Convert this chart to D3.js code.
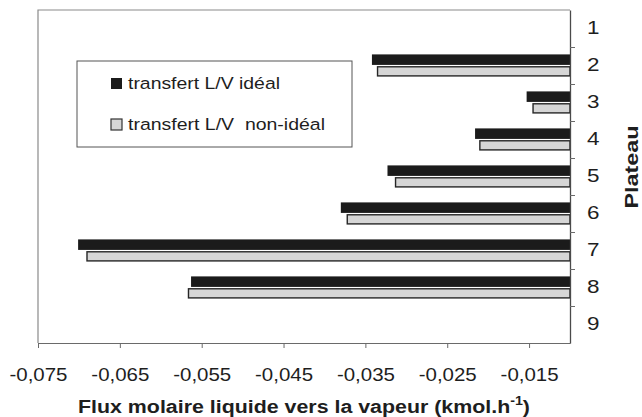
<!DOCTYPE html>
<html>
<head>
<meta charset="utf-8">
<script src="https://cdn.jsdelivr.net/npm/d3@7"></script>
<style>
  html, body { margin: 0; padding: 0; background: #fff; }
  svg { display: block; font-family: "Liberation Sans", Arial, Helvetica, sans-serif; }
  text { fill: #1e1e1e; }
</style>
</head>
<body>
<svg id="chart" width="642" height="417"></svg>
<script>
// ---- data ----
const plateaux = ["1", "2", "3", "4", "5", "6", "7", "8", "9"];
const seriesNames = ["transfert L/V idéal", "transfert L/V  non-idéal"];
const fluxIdeal    = [null, -0.0342, -0.0153, -0.0216, -0.0323, -0.0380, -0.0701, -0.0563, null];
const fluxNonIdeal = [null, -0.0336, -0.0146, -0.0211, -0.0314, -0.0373, -0.0691, -0.0567, null];
const xTickValues = [-0.075, -0.065, -0.055, -0.045, -0.035, -0.025, -0.015];
const xDomain = [-0.075, -0.010];
const xTitle = "Flux molaire liquide vers la vapeur (kmol.h";
const yTitle = "Plateau";

// ---- layout ----
const M = { left: 38, right: 570, top: 10, bottom: 343 };
const svg = d3.select("#chart");

const x = d3.scaleLinear().domain(xDomain).range([M.left, M.right]);
const y = d3.scaleBand().domain(plateaux).range([M.top, M.bottom]).paddingInner(0.4).paddingOuter(0.2);
const ySub = d3.scaleBand().domain([0, 1]).range([0, y.bandwidth()]).paddingInner(0.1);
const yEdges = d3.scaleLinear().domain([0, plateaux.length]).range([M.top, M.bottom]);

const fr = d3.formatLocale({ decimal: ",", thousands: " ", grouping: [3], currency: ["", ""], minus: "-" });
const fmt = fr.format(".3f");

// frame (top and left)
svg.append("path")
  .attr("d", `M${M.left},${M.bottom}V${M.top}H${M.right}`)
  .attr("fill", "none").attr("stroke", "#8a8a8a").attr("stroke-width", 1.2);

// bars
const rows = plateaux.map((p, i) => ({ p, vals: [fluxIdeal[i], fluxNonIdeal[i]] }));
const g = svg.append("g");
rows.forEach(r => {
  r.vals.forEach((v, s) => {
    if (v == null) return;
    const y0 = y(r.p) + ySub(s);
    const rect = g.append("rect")
      .attr("x", x(v))
      .attr("y", y0)
      .attr("width", x(xDomain[1]) - x(v))
      .attr("height", ySub.bandwidth());
    if (s === 0) {
      rect.attr("fill", "#1b1b1b");
    } else {
      rect.attr("x", x(v) + 0.7).attr("width", x(xDomain[1]) - x(v) - 0.7)
        .attr("y", y0 + 0.7).attr("height", ySub.bandwidth() - 1.4)
        .attr("fill", "#d6d6d6").attr("stroke", "#262626").attr("stroke-width", 1.4);
    }
  });
});

// bottom axis
const xAxis = svg.append("g")
  .attr("transform", `translate(0,${M.bottom})`)
  .call(d3.axisBottom(x).tickValues(xTickValues).tickFormat(fmt).tickSize(5).tickSizeOuter(0).tickPadding(21));
xAxis.select(".domain").attr("stroke", "#6a6a6a").attr("stroke-width", 1.2);
xAxis.selectAll(".tick line").attr("stroke", "#6a6a6a");
xAxis.selectAll("text")
  .attr("font-size", 17.5).attr("fill", "#1e1e1e")
  .attr("textLength", 58).attr("lengthAdjust", "spacingAndGlyphs");

// right axis: edge ticks
const yAxisEdges = svg.append("g")
  .attr("transform", `translate(${M.right},0)`)
  .call(d3.axisRight(yEdges).tickValues(d3.range(1, plateaux.length)).tickFormat("").tickSize(5).tickSizeOuter(0));
yAxisEdges.select(".domain").attr("stroke", "#4a4a4a").attr("stroke-width", 1.3);
yAxisEdges.selectAll(".tick line").attr("stroke", "#6a6a6a");

// right axis: labels
const yAxisLabels = svg.append("g")
  .attr("transform", `translate(${M.right},0)`)
  .call(d3.axisRight(y).tickSize(0).tickPadding(17));
yAxisLabels.select(".domain").remove();
yAxisLabels.selectAll("text")
  .attr("font-size", 18.5).attr("fill", "#1e1e1e")
  .attr("textLength", 12.5).attr("lengthAdjust", "spacingAndGlyphs");

// axis titles
const xt = svg.append("text")
  .attr("x", (M.left + M.right) / 2).attr("y", 413)
  .attr("text-anchor", "middle")
  .attr("font-size", 18).attr("font-weight", "bold");
xt.append("tspan").text(xTitle);
xt.append("tspan").attr("font-size", 12).attr("dy", -8).text("-1");
xt.append("tspan").attr("dy", 8).text(")");
xt.attr("textLength", 452).attr("lengthAdjust", "spacingAndGlyphs");

svg.append("text")
  .attr("transform", "translate(638,167) rotate(-90)")
  .attr("text-anchor", "middle")
  .attr("font-size", 18.5).attr("font-weight", "bold")
  .attr("textLength", 83).attr("lengthAdjust", "spacingAndGlyphs")
  .text(yTitle);

// legend
const lg = svg.append("g");
lg.append("rect").attr("x", 77).attr("y", 61).attr("width", 275).attr("height", 86)
  .attr("fill", "#fff").attr("stroke", "#555").attr("stroke-width", 1);
const legendWidths = [152, 197];
seriesNames.forEach((name, i) => {
  const yy = 78 + i * 41;
  lg.append("rect").attr("x", 111).attr("y", yy).attr("width", 11).attr("height", 11)
    .attr("fill", i === 0 ? "#1b1b1b" : "#d6d6d6")
    .attr("stroke", i === 0 ? "none" : "#333").attr("stroke-width", 1.2);
  lg.append("text").attr("x", 128).attr("y", yy + 11)
    .attr("font-size", 16.3)
    .style("white-space", "pre")
    .attr("textLength", legendWidths[i]).attr("lengthAdjust", "spacingAndGlyphs")
    .text(name);
});
</script>
</body>
</html>
